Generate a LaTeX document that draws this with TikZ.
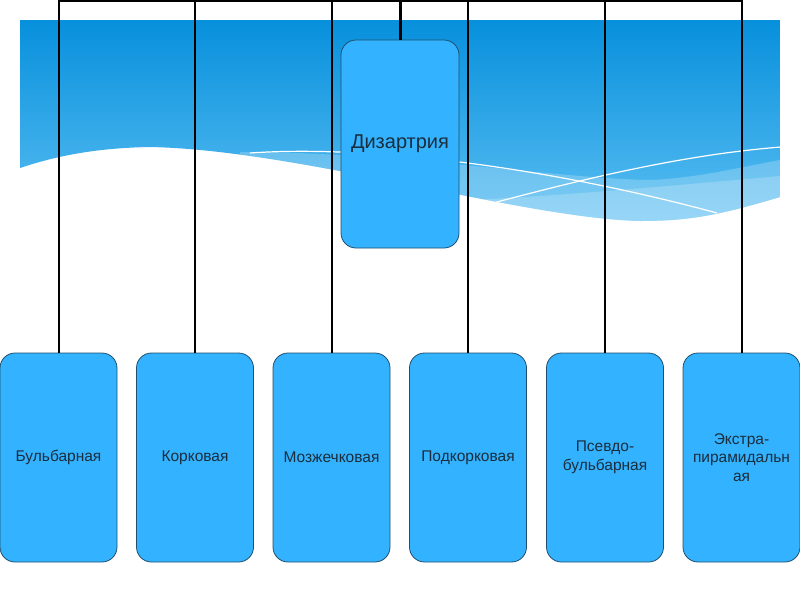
\documentclass[tikz,border=0pt]{standalone}
\usepackage{fontspec}
\setmainfont{Liberation Sans}
\usepackage{tikz}
\usetikzlibrary{positioning}

\definecolor{wavetop}{HTML}{0790DC}
\definecolor{wavebot}{HTML}{5DC0F3}
\definecolor{boxblue}{HTML}{33B3FF}
\definecolor{boxline}{HTML}{1F4E6E}
\definecolor{labeltext}{HTML}{1A2D3D}

\begin{document}
\begin{tikzpicture}[
  x=1pt, y=-1pt,
  rootbox/.style={draw=boxline, line width=0.8pt, rounded corners=15pt, fill=boxblue,
                  align=center, text=labeltext, inner sep=2pt,
                  minimum width=118pt, minimum height=208pt,
                  font=\fontsize{20}{23}\selectfont},
  leafbox/.style={draw=boxline, line width=0.8pt, rounded corners=15pt, fill=boxblue,
                  align=center, text=labeltext, inner sep=2pt,
                  minimum width=117pt, minimum height=209pt,
                  font=\fontsize{15.5}{18.5}\selectfont},
  conn/.style={line width=2pt, black},
  waveline/.style={white, line width=1.2pt},
]
\useasboundingbox (0,0) rectangle (800,600);

% wave band
\begin{scope}
  \clip (20,20) -- (780,20) -- (780,197)
        .. controls (720,215) and (690,221) .. (640,221)
        .. controls (520,218) and (300,150) .. (150,147)
        .. controls (90,148) and (50,158) .. (20,168) -- cycle;
  \shade[top color=wavetop, bottom color=wavebot] (20,20) rectangle (780,230);
  \fill[white, opacity=0.22] (240,152) .. controls (400,152) and (550,178) .. (650,180)
        .. controls (700,178) and (750,165) .. (780,160) -- (780,240) -- (240,240) -- cycle;
  \fill[white, opacity=0.2] (470,200) .. controls (560,196) and (680,185) .. (780,176)
        -- (780,240) -- (470,240) -- cycle;
  \draw[waveline] (250,153) .. controls (350,146) and (520,160) .. (717,213);
  \draw[waveline] (493,203) .. controls (580,180) and (680,155) .. (781,147);
\end{scope}

\node[rootbox] (dz) at (400,144) {Дизартрия};

\node[leafbox] (bul) at (58.5,457.5)  {Бульбарная};
\node[leafbox] (kor) at (195,457.5)   {Корковая};
\node[leafbox] (moz) at (331.5,457.5) {Мозжечковая};
\node[leafbox] (pod) at (468,457.5)   {Подкорковая};
\node[leafbox] (psb) at (605,457.5)   {Псевдо-\\бульбарная};
\node[leafbox] (ekp) at (741.5,457.5) {Экстра-\\пирамидальн\\ая};

\coordinate (bus) at (400,1);

\draw[conn, line width=3pt] (dz.north) -- (bus);
\draw[conn] (bul.north) -- (bul.north |- bus) -- (ekp.north |- bus) -- (ekp.north);
\draw[conn] (kor.north) -- (kor.north |- bus);
\draw[conn] (moz.north) -- (moz.north |- bus);
\draw[conn] (pod.north) -- (pod.north |- bus);
\draw[conn] (psb.north) -- (psb.north |- bus);
\end{tikzpicture}
\end{document}
